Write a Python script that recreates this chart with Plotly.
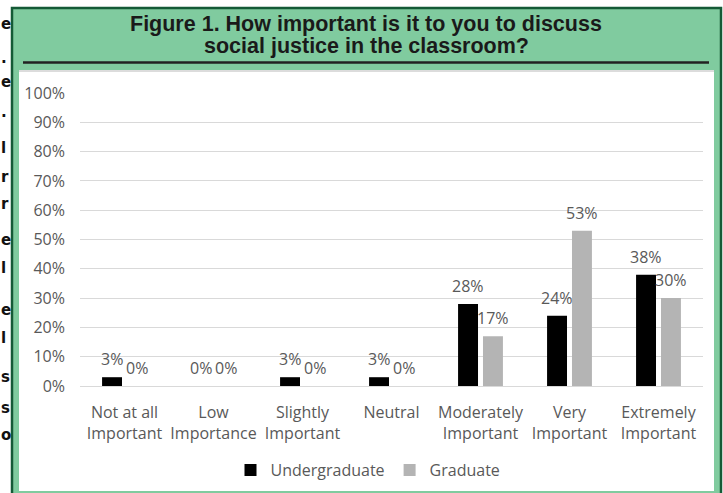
import plotly.graph_objects as go

# Survey responses: importance of discussing social justice in the classroom
categories = [
    "Not at all<br>Important",
    "Low<br>Importance",
    "Slightly<br>Important",
    "Neutral",
    "Moderately<br>Important",
    "Very<br>Important",
    "Extremely<br>Important",
]
undergraduate = [3, 0, 3, 3, 28, 24, 38]
graduate = [0, 0, 0, 0, 17, 53, 30]
series_names = ["Undergraduate", "Graduate"]
series_colors = ["#000000", "#b4b4b4"]
title_lines = [
    "Figure 1. How important is it to you to discuss",
    "social justice in the classroom?",
]
y_ticks = list(range(0, 101, 10))
y_tick_labels = [f"{v}%" for v in y_ticks]
# Edge of the neighbouring text column on the page
page_margin_glyphs = [
    ("e", 24), (".", 58), ("e", 82), (".", 112), ("l", 148), ("r", 177),
    ("r", 204), ("e", 240), ("l", 268), ("e", 310), ("l", 338), ("s", 377),
    ("s", 408), ("o", 435),
]

W, H = 723, 493
L, R, T, B = 80, 20, 93, 107
PW, PH = W - L - R, H - T - B


def px(x):
    return (x - L) / PW


def py(y):
    return (H - B - y) / PH


FONT = "Open Sans"
GREY_TEXT = "#595959"

fig = go.Figure()
for name, vals, color in zip(series_names, [undergraduate, graduate], series_colors):
    fig.add_trace(go.Bar(
        x=categories, y=vals, name=name, marker_color=color,
        marker_line_width=0, hoverinfo="skip",
    ))

# Value labels above each bar
annotations = []
for shift, vals in zip([-12.4, 12.4], [undergraduate, graduate]):
    for cat, v in zip(categories, vals):
        annotations.append(dict(
            x=cat, y=v, xref="x", yref="y", text=f"{v}%", showarrow=False,
            xshift=shift, yshift=5, yanchor="bottom",
            font=dict(family=FONT, size=16, color=GREY_TEXT),
        ))

# Figure title in the header band, one annotation per line
for line, yy in zip(title_lines, [24, 46]):
    annotations.append(dict(
        x=px(366), y=py(yy), xref="paper", yref="paper",
        text=f"<b>{line}</b>", showarrow=False,
        xanchor="center", yanchor="middle", align="center",
        font=dict(family="Liberation Sans", size=21.5, color="#1a1a1a"),
    ))

for ch, yy in page_margin_glyphs:
    annotations.append(dict(
        x=px(0), y=py(yy), xref="paper", yref="paper", text=f"<b>{ch}</b>",
        showarrow=False, xanchor="left", yanchor="middle", borderpad=0,
        font=dict(family="DejaVu Sans", size=15, color="#111111"),
    ))

shapes = [
    # green frame with dark border
    dict(type="rect", xref="paper", yref="paper", layer="below",
         x0=px(12), x1=px(721), y0=py(510), y1=py(8),
         fillcolor="#80cb9f", line=dict(color="#145a36", width=2.5)),
    # white chart area
    dict(type="rect", xref="paper", yref="paper", layer="below",
         x0=px(19), x1=px(714), y0=py(491), y1=py(70),
         fillcolor="#ffffff", line=dict(width=0)),
    dict(type="line", xref="paper", yref="paper", layer="below",
         x0=px(19), x1=px(714), y0=py(71), y1=py(71),
         line=dict(color="#dcdcdc", width=2)),
    # rule under the title
    dict(type="line", xref="paper", yref="paper", layer="below",
         x0=px(23), x1=px(709), y0=py(62.5), y1=py(62.5),
         line=dict(color="#222222", width=2.5)),
]

fig.update_layout(
    width=W, height=H,
    margin=dict(l=L, r=R, t=T, b=B, pad=0, autoexpand=False),
    paper_bgcolor="#ffffff", plot_bgcolor="rgba(0,0,0,0)",
    barmode="group", bargap=0.44, bargroupgap=0.2,
    font=dict(family=FONT, size=16, color=GREY_TEXT),
    showlegend=True,
    legend=dict(
        orientation="h", x=px(368), y=py(470), xanchor="center", yanchor="middle",
        font=dict(family=FONT, size=16, color=GREY_TEXT),
        bgcolor="rgba(0,0,0,0)", itemwidth=30, traceorder="normal",
    ),
    annotations=annotations,
    shapes=shapes,
)
fig.update_xaxes(
    showgrid=False, showline=True, linecolor="#d9d9d9", linewidth=1,
    ticks="", ticklabelstandoff=12, automargin=False,
    tickfont=dict(family=FONT, size=16, color=GREY_TEXT),
    fixedrange=True,
)
fig.update_yaxes(
    range=[0, 100], tickmode="array", tickvals=y_ticks, ticktext=y_tick_labels,
    showgrid=True, gridcolor="#d9d9d9", gridwidth=1, zeroline=False,
    showline=False, ticks="", ticklabelstandoff=14, automargin=False,
    tickfont=dict(family=FONT, size=16, color=GREY_TEXT),
    fixedrange=True,
)

fig.write_html("out.html")
